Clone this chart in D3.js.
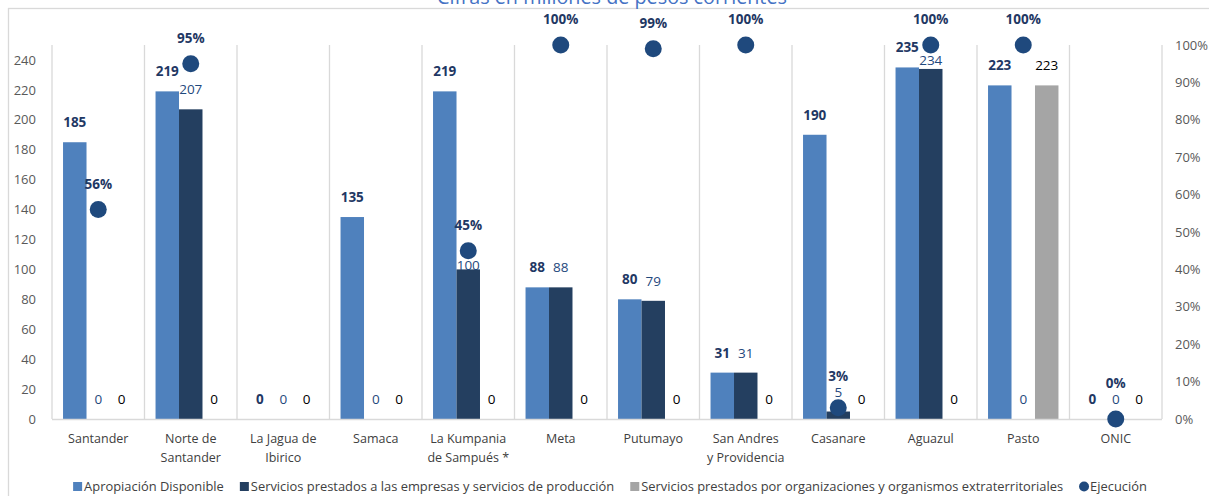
<!DOCTYPE html>
<html>
<head>
<meta charset="utf-8">
<script src="https://cdn.jsdelivr.net/npm/d3@7"></script>
<style>
  body { margin: 0; background: #fff; }
  svg { font-family: "Open Sans", "Noto Sans", sans-serif; }
</style>
</head>
<body>
<svg id="chart" width="1209" height="496"></svg>
<script>
// data
var categories = ['Santander', 'Norte de|Santander', 'La Jagua de|Ibirico', 'Samaca', 'La Kumpania|de Sampués *',
  'Meta', 'Putumayo', 'San Andres|y Providencia', 'Casanare', 'Aguazul', 'Pasto', 'ONIC'];
var apropiacion = [185, 219, 0, 135, 219, 88, 80, 31, 190, 235, 223, 0];
var serviciosEmpresas = [0, 207, 0, 0, 100, 88, 79, 31, 5, 234, 0, 0];
var serviciosExtra = [0, 0, 0, 0, 0, 0, 0, 0, 0, 0, 223, 0];
var ejecucion = [0.56, 0.95, null, null, 0.45, 1, 0.99, 1, 0.03, 1, 1, 0];
var leftTicks = [0, 20, 40, 60, 80, 100, 120, 140, 160, 180, 200, 220, 240];
var rightTicks = [0, 0.1, 0.2, 0.3, 0.4, 0.5, 0.6, 0.7, 0.8, 0.9, 1];
var seriesNames = ['Apropiación Disponible', 'Servicios prestados a las empresas y servicios de producción',
  'Servicios prestados por organizaciones y organismos extraterritoriales', 'Ejecución'];

var colors = ['#4f81bd', '#243f60', '#a5a5a5', '#1f497d'];
var labelColors = ['#1f3864', '#1f497d', '#000000'];

var svg = d3.select('#chart');
var plotLeft = 52, plotRight = 1162, plotTop = 45, plotBottom = 419;
var dotR = 8.5;

// outer chart border (only top/left visible)
svg.append('rect').attr('x', 8.5).attr('y', 8.5).attr('width', 1250).attr('height', 600)
  .attr('fill', 'none').attr('stroke', '#d9d9d9').attr('stroke-width', 1.3);

svg.append('text').attr('x', 612).attr('y', 4).attr('text-anchor', 'middle')
  .attr('fill', '#4472c4').attr('font-size', 19.8).text('Cifras en millones de pesos corrientes');

var x = d3.scaleBand().domain(d3.range(categories.length)).range([plotLeft, plotRight]);
var x1 = d3.scaleBand().domain([0, 1, 2]).range([0, x.bandwidth()]).paddingOuter(0.47);
var y = d3.scaleLinear().domain([0, 250]).range([plotBottom, plotTop]);
var y2 = d3.scaleLinear().domain([0, 1]).range([plotBottom, plotTop]);

// vertical category separators
svg.append('g').selectAll('line').data(d3.range(categories.length + 1)).enter().append('line')
  .attr('x1', function(d){ return plotLeft + d * x.bandwidth(); })
  .attr('x2', function(d){ return plotLeft + d * x.bandwidth(); })
  .attr('y1', plotTop).attr('y2', plotBottom)
  .attr('stroke', '#d9d9d9').attr('stroke-width', 1.3);

// left axis
var leftAxis = svg.append('g').attr('transform', 'translate(' + plotLeft + ',0)')
  .call(d3.axisLeft(y).tickValues(leftTicks).tickSize(0).tickPadding(16));
leftAxis.select('.domain').remove();

// right axis
var rightAxis = svg.append('g').attr('transform', 'translate(' + plotRight + ',0)')
  .call(d3.axisRight(y2).tickValues(rightTicks).tickSize(0).tickPadding(13).tickFormat(d3.format('.0%')));
rightAxis.select('.domain').remove();

[leftAxis, rightAxis].forEach(function(a){
  a.attr('font-family', null).attr('font-size', null);
  a.selectAll('text').attr('fill', '#595959').attr('font-size', 13);
});

// bars
var series = [apropiacion, serviciosEmpresas, serviciosExtra];
series.forEach(function(vals, s){
  svg.append('g').selectAll('rect').data(vals).enter().append('rect')
    .attr('x', function(d, i){ return x(i) + x1(s); })
    .attr('width', x1.bandwidth())
    .attr('y', function(d){ return y(d); })
    .attr('height', function(d){ return plotBottom - y(d); })
    .attr('fill', colors[s]);
});

// baseline
svg.append('line').attr('x1', plotLeft).attr('x2', plotRight).attr('y1', plotBottom + 0.5).attr('y2', plotBottom + 0.5)
  .attr('stroke', '#d9d9d9').attr('stroke-width', 1.5);

// label baseline for a bar; the middle bar label drops under the dot if they collide
var barLabelY = function(s, i){
  var ly = y(series[s][i]) - 15;
  var e = ejecucion[i];
  if (s === 1 && e !== null) {
    var dy = y2(e);
    if (ly > dy - dotR && ly < dy + dotR + 11) ly = dy + dotR + 11;
  }
  return ly;
};

// bar labels
series.forEach(function(vals, s){
  svg.append('g').selectAll('text').data(vals).enter().append('text')
    .attr('x', function(d, i){ return x(i) + x1(s) + x1.bandwidth() / 2; })
    .attr('y', function(d, i){ return barLabelY(s, i); })
    .attr('text-anchor', 'middle')
    .attr('font-size', 13.5)
    .attr('font-weight', s === 0 ? 'bold' : null)
    .attr('fill', labelColors[s])
    .text(function(d){ return d; });
});

// ejecucion markers
var pts = ejecucion.map(function(d, i){ return { v: d, i: i }; }).filter(function(d){ return d.v !== null; });
svg.append('g').selectAll('circle').data(pts).enter().append('circle')
  .attr('cx', function(d){ return x(d.i) + x.bandwidth() / 2; })
  .attr('cy', function(d){ return y2(d.v); })
  .attr('r', dotR)
  .attr('fill', colors[3]);
svg.append('g').selectAll('text').data(pts).enter().append('text')
  .attr('x', function(d){ return x(d.i) + x.bandwidth() / 2; })
  .attr('y', function(d){
    var ly = y2(d.v) - 21;
    var mid = barLabelY(1, d.i);
    if (mid < y2(d.v)) ly = Math.min(ly, mid - 16);
    return ly;
  })
  .attr('text-anchor', 'middle').attr('font-size', 13.5).attr('font-weight', 'bold')
  .attr('fill', '#1f3864')
  .text(function(d){ return d3.format('.0%')(d.v); });

// category labels
var catG = svg.append('g').selectAll('text').data(categories).enter().append('text')
  .attr('x', function(d, i){ return x(i) + x.bandwidth() / 2; })
  .attr('y', 443)
  .attr('text-anchor', 'middle').attr('font-size', 12.5).attr('fill', '#404040');
catG.each(function(d){
  var t = d3.select(this);
  d.split('|').forEach(function(line, k){
    t.append('tspan').attr('x', t.attr('x')).attr('dy', k === 0 ? 0 : 19).text(line);
  });
});

// legend
var legend = svg.append('g');
var lx = 0;
seriesNames.forEach(function(name, s){
  var item = legend.append('g').attr('transform', 'translate(' + lx + ',0)');
  if (s < 3) {
    item.append('rect').attr('x', 0).attr('y', -9).attr('width', 9).attr('height', 9).attr('fill', colors[s]);
  } else {
    item.append('circle').attr('cx', 5).attr('cy', -4.5).attr('r', 5).attr('fill', colors[s]);
  }
  var t = item.append('text').attr('x', 11).attr('y', 0).attr('font-size', 12.9).attr('fill', '#404040').text(name);
  lx += 11 + t.node().getComputedTextLength() + 16;
});
legend.attr('transform', 'translate(' + (610 - (lx - 16) / 2) + ',491)');
</script>
</body>
</html>
